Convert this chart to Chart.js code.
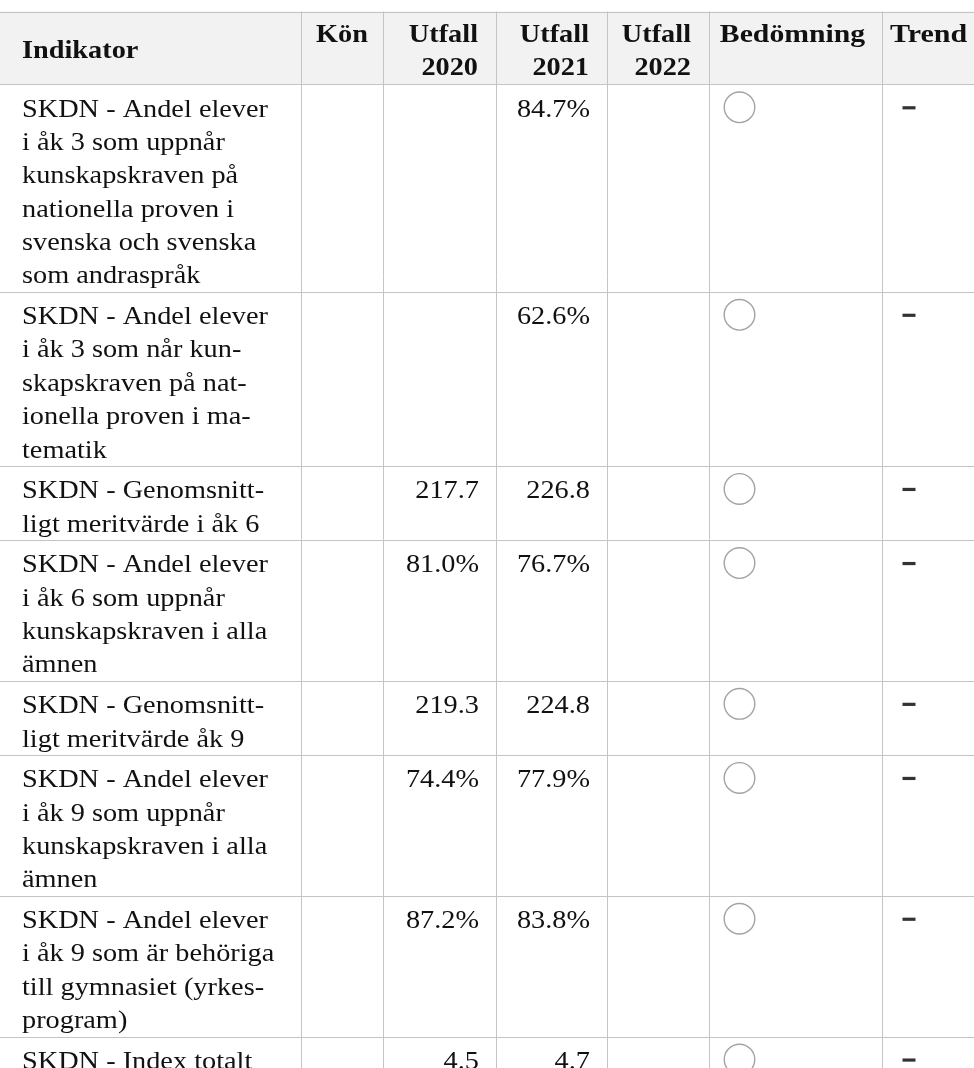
<!DOCTYPE html>
<html lang="sv">
<head>
<meta charset="utf-8">
<title>SKDN indikatorer</title>
<script src="https://cdn.jsdelivr.net/npm/chart.js@4.4.1/dist/chart.umd.min.js"></script>
<style>
  html, body { margin:0; padding:0; background:#fff; }
  #wrap { width:974px; height:1068px; overflow:hidden; }
</style>
</head>
<body>
<div id="wrap"><canvas id="tbl" width="974" height="1068"></canvas></div>
<script>
// Table content
const headers = [['Indikator'], ['Kön'], ['Utfall', '2020'], ['Utfall', '2021'], ['Utfall', '2022'], ['Bedömning'], ['Trend']];
const indikatorer = [
  ['SKDN - Andel elever', 'i åk 3 som uppnår', 'kunskapskraven på', 'nationella proven i', 'svenska och svenska', 'som andraspråk'],
  ['SKDN - Andel elever', 'i åk 3 som når kun-', 'skapskraven på nat-', 'ionella proven i ma-', 'tematik'],
  ['SKDN - Genomsnitt-', 'ligt meritvärde i åk 6'],
  ['SKDN - Andel elever', 'i åk 6 som uppnår', 'kunskapskraven i alla', 'ämnen'],
  ['SKDN - Genomsnitt-', 'ligt meritvärde åk 9'],
  ['SKDN - Andel elever', 'i åk 9 som uppnår', 'kunskapskraven i alla', 'ämnen'],
  ['SKDN - Andel elever', 'i åk 9 som är behöriga', 'till gymnasiet (yrkes-', 'program)'],
  ['SKDN - Index totalt'],
];
const kon        = ['', '', '', '', '', '', '', ''];
const utfall2020 = [null, null, 217.7, 81.0, 219.3, 74.4, 87.2, 4.5];
const utfall2021 = [84.7, 62.6, 226.8, 76.7, 224.8, 77.9, 83.8, 4.7];
const utfall2022 = [null, null, null, null, null, null, null, null];
const enhet      = ['%', '%', '', '%', '', '%', '%', ''];
const bedomning  = ['Ej bedömd', 'Ej bedömd', 'Ej bedömd', 'Ej bedömd', 'Ej bedömd', 'Ej bedömd', 'Ej bedömd', 'Ej bedömd'];
const trend      = ['–', '–', '–', '–', '–', '–', '–', '–'];

// layout (px units of the x/y scales)
const W = 974, H = 1068;
const colEdges = [0, 301, 383, 496, 607, 709, 882, 975];
const headerTop = 11.5, headerH = 72.8;
const lineH = 33.35, rowPad = 7.4, firstBase = 32.3;
const FONT = "'Liberation Serif', 'Times New Roman', serif";
const FS = 25;
const ink = '#111', gridColor = '#c4c4c4';

const rowTops = [];
let acc = headerTop + headerH;
indikatorer.forEach(lines => { rowTops.push(acc); acc += lines.length * lineH + rowPad; });
const rowEnds = rowTops.map((t, i) => t + indikatorer[i].length * lineH + rowPad);

const fmt = (v, u) => v == null ? '' : v.toFixed(1) + u;

let sx = 1;
function txt(ctx, s, x, y, align, k){
  ctx.save();
  ctx.translate(x, y);
  ctx.scale(sx * (k || 1), 1);
  ctx.textAlign = align;
  ctx.fillText(s, 0, 0);
  ctx.restore();
}

const tablePlugin = {
  id: 'tablePlugin',
  beforeDatasetsDraw(chart){
    const { ctx, scales: { x, y } } = chart;
    const px = v => x.getPixelForValue(v), py = v => y.getPixelForValue(v);
    ctx.save();
    // header background
    ctx.fillStyle = '#f2f2f2';
    ctx.fillRect(px(0), py(headerTop), px(W) - px(0), py(headerTop + headerH) - py(headerTop));

    // grid
    ctx.strokeStyle = gridColor;
    ctx.lineWidth = 1;
    const hLines = [headerTop, headerTop + headerH, ...rowEnds];
    hLines.forEach(v => {
      const yy = Math.round(py(v)) + 0.5;
      ctx.beginPath(); ctx.moveTo(px(0), yy); ctx.lineTo(px(W), yy); ctx.stroke();
    });
    colEdges.slice(1, -1).forEach(c => {
      const xx = Math.round(px(c)) + 0.5;
      ctx.beginPath(); ctx.moveTo(xx, py(headerTop)); ctx.lineTo(xx, py(H)); ctx.stroke();
    });

    // width factor so the serif face fills the cell like the original
    ctx.font = `${FS}px ${FONT}`;
    sx = 246 / ctx.measureText('SKDN - Andel elever').width;

    // header text
    ctx.fillStyle = ink;
    ctx.textBaseline = 'alphabetic';
    ctx.font = `bold ${FS}px ${FONT}`;
    const hb = headerTop + 30;
    txt(ctx, headers[0][0], px(22), py(headerTop + 46.5), 'left');
    txt(ctx, headers[1][0], px((colEdges[1] + colEdges[2]) / 2), py(hb), 'center');
    [2, 3, 4].forEach(c => headers[c].forEach((s, k) => txt(ctx, s, px(colEdges[c + 1] - 18), py(hb + k * lineH), 'right')));
    txt(ctx, headers[5][0], px((colEdges[5] + colEdges[6]) / 2 - 3), py(hb), 'center', 1.05);
    txt(ctx, headers[6][0], px((colEdges[6] + colEdges[7]) / 2), py(hb), 'center', 1.06);

    // body text
    ctx.font = `${FS}px ${FONT}`;
    indikatorer.forEach((lines, i) => {
      const b = rowTops[i] + firstBase;
      lines.forEach((s, k) => txt(ctx, s, px(22), py(b + k * lineH), 'left'));
      txt(ctx, kon[i], px((colEdges[1] + colEdges[2]) / 2), py(b), 'center');
      txt(ctx, fmt(utfall2020[i], enhet[i]), px(colEdges[3] - 17), py(b), 'right');
      txt(ctx, fmt(utfall2021[i], enhet[i]), px(colEdges[4] - 17), py(b), 'right');
      txt(ctx, fmt(utfall2022[i], enhet[i]), px(colEdges[5] - 17), py(b), 'right');
    });
    ctx.restore();
  }
};

new Chart(document.getElementById('tbl'), {
  type: 'scatter',
  data: { datasets: [
    { label: 'Bedömning',
      data: bedomning.map((b, i) => ({ x: colEdges[5] + 30.5, y: rowTops[i] + 23 })),
      pointStyle: 'circle', pointRadius: 15.3, pointBorderWidth: 1.4,
      pointBorderColor: '#a3a3a3', pointBackgroundColor: '#fff', clip: false },
    { label: 'Trend',
      data: trend.map((t, i) => ({ x: colEdges[6] + 27, y: rowTops[i] + 23.5 })),
      pointStyle: 'line', pointRadius: 6.5, pointBorderWidth: 3.2,
      pointBorderColor: '#333', clip: false },
  ] },
  options: {
    responsive: false, animation: false, devicePixelRatio: 1,
    layout: { padding: 0, autoPadding: false },
    plugins: { legend: { display: false }, tooltip: { enabled: false } },
    events: [],
    scales: {
      x: { type: 'linear', min: 0, max: W, display: false },
      y: { type: 'linear', min: 0, max: H, reverse: true, display: false },
    }
  },
  plugins: [tablePlugin]
});
</script>
</body>
</html>
